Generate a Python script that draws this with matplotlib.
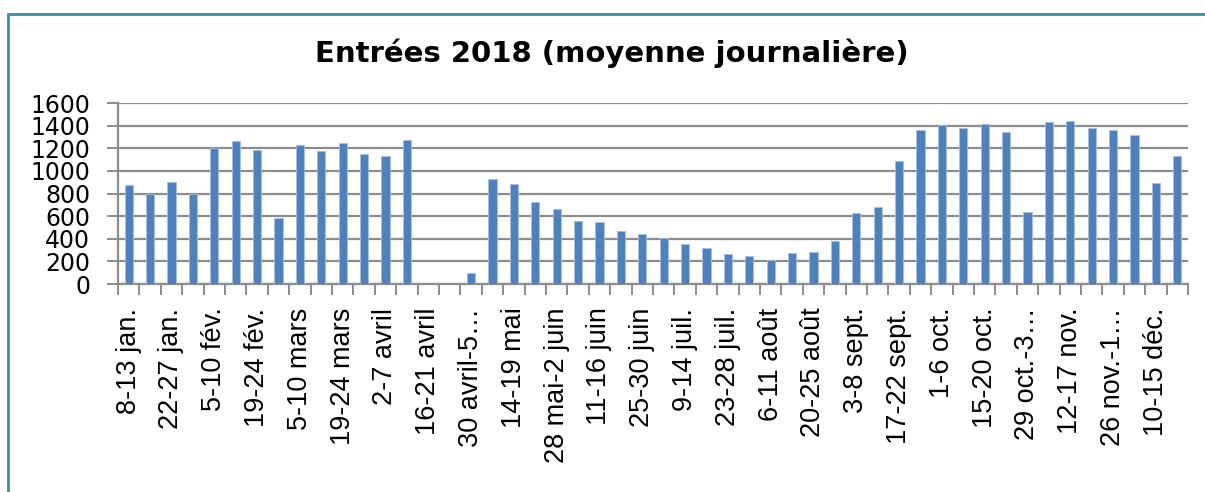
import matplotlib.pyplot as plt
from matplotlib.patches import Rectangle
import numpy as np

# weekly averages, 2018 (one bar per week, from 8-13 jan. to 17-22 déc.)
week_labels = [
    "8-13 jan.", "15-20 jan.", "22-27 jan.", "29 jan.-3 fév.", "5-10 fév.",
    "12-17 fév.", "19-24 fév.", "26 fév.-3 mars", "5-10 mars", "12-17 mars",
    "19-24 mars", "26-31 mars", "2-7 avril", "9-14 avril", "16-21 avril",
    "23-28 avril", "30 avril-5 mai", "7-12 mai", "14-19 mai", "21-26 mai",
    "28 mai-2 juin", "4-9 juin", "11-16 juin", "18-23 juin", "25-30 juin",
    "2-7 juil.", "9-14 juil.", "16-21 juil.", "23-28 juil.", "30 juil.-4 août",
    "6-11 août", "13-18 août", "20-25 août", "27 août-1 sept.", "3-8 sept.",
    "10-15 sept.", "17-22 sept.", "24-29 sept.", "1-6 oct.", "8-13 oct.",
    "15-20 oct.", "22-27 oct.", "29 oct.-3 nov.", "5-10 nov.", "12-17 nov.",
    "19-24 nov.", "26 nov.-1 déc.", "3-8 déc.", "10-15 déc.", "17-22 déc.",
]
entrees = [
    875, 800, 905, 800, 1200, 1265, 1185, 580, 1225, 1175,
    1245, 1150, 1135, 1270, 0, 0, 100, 930, 880, 725,
    665, 560, 550, 465, 445, 405, 355, 320, 265, 250,
    215, 270, 280, 380, 630, 680, 1090, 1360, 1405, 1375,
    1415, 1340, 640, 1435, 1445, 1375, 1365, 1320, 895, 1135,
]
y_ticks = [0, 200, 400, 600, 800, 1000, 1200, 1400, 1600]


def short_label(text, limit=13):
    # Excel cuts long category names with an ellipsis
    if len(text) > limit:
        return text[:10].rstrip() + "…"
    return text


fig = plt.figure(figsize=(12.05, 4.92), dpi=100)
fig.patch.set_facecolor("white")

# chart frame (only the top and left edges show in the picture)
fig.patches.append(Rectangle((8 / 1205, -0.1), 1.2, 1 - 14 / 492 + 0.1,
                             transform=fig.transFigure, fill=False,
                             edgecolor="#3b8ea5", linewidth=2))

ax = fig.add_axes([118 / 1205, 1 - 284 / 492, 1070 / 1205, 181 / 492])

x = np.arange(len(entrees))
ax.bar(x, entrees, width=0.39, color="#4f81bd", edgecolor="#a7bfdf",
       linewidth=0.6, zorder=3)

ax.set_xlim(-0.5, len(entrees) - 0.5)
ax.set_ylim(0, 1600)
ax.set_yticks(y_ticks)
ax.set_yticklabels([str(v) for v in y_ticks], fontsize=17,
                   family="DejaVu Sans")
ax.yaxis.grid(True, color="#8c8c8c", linewidth=1.6, zorder=0)
ax.set_axisbelow(True)

shown = x[::2]
ax.set_xticks(shown)
ax.set_xticklabels([short_label(week_labels[i]) for i in shown],
                   rotation=90, fontsize=19.5, family="Liberation Sans")
ax.set_xticks(np.arange(-0.5, len(entrees)), minor=True)
ax.tick_params(axis="x", which="major", length=0, pad=17)
ax.tick_params(axis="x", which="minor", length=8, width=1.4,
               color="#8c8c8c", direction="out")
ax.tick_params(axis="y", length=8, width=1.4, color="#8c8c8c",
               direction="out", pad=12)

for side in ["top", "right"]:
    ax.spines[side].set_visible(False)
for side in ["left", "bottom"]:
    ax.spines[side].set_color("#8c8c8c")
    ax.spines[side].set_linewidth(1.6)

fig.text(612 / 1205, 1 - 53 / 492, "Entrées 2018 (moyenne journalière)",
         ha="center", va="center", fontsize=21, fontweight="bold",
         family="DejaVu Sans")

fig.savefig("out.png", dpi=100, facecolor="white")
